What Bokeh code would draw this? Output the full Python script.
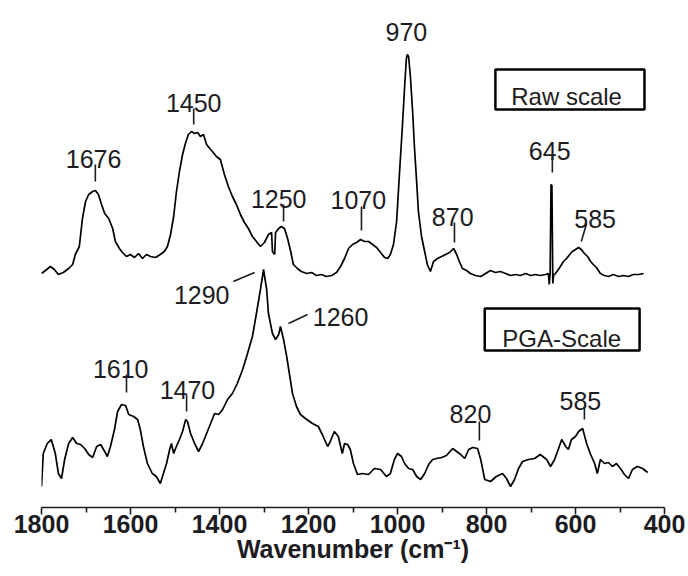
from bokeh.plotting import figure
from bokeh.models import Range1d, FixedTicker, ColumnDataSource, BoxAnnotation, Title
from bokeh.core.properties import value
from bokeh.embed import file_html
from bokeh.resources import INLINE

# ---------------- data (wavenumber cm-1, intensity a.u. incl. offset) ----------------
raw_wn = [1800, 1791, 1780, 1771, 1762, 1751, 1739, 1730, 1724, 1715, 1708, 1701, 1694, 1685, 1679,
          1672, 1665, 1658, 1649, 1640, 1634, 1625, 1618, 1609, 1600, 1591, 1582, 1573, 1564, 1555,
          1544, 1533, 1524, 1517, 1510, 1503, 1497, 1490, 1483, 1476, 1470, 1463, 1456, 1449, 1443,
          1436, 1429, 1422, 1416, 1407, 1398, 1389, 1380, 1371, 1362, 1353, 1344, 1335, 1326, 1317,
          1308, 1299, 1290, 1283, 1281, 1276, 1274, 1267, 1261, 1254, 1247, 1240, 1234, 1225, 1216,
          1204, 1193, 1182, 1171, 1160, 1148, 1137, 1128, 1119, 1110, 1101, 1092, 1083, 1074, 1065,
          1056, 1047, 1038, 1029, 1022, 1016, 1009, 1002, 996, 989, 984, 980, 978, 975, 971,
          966, 962, 957, 953, 946, 939, 933, 926, 919, 910, 901, 892, 883, 874, 867,
          861, 854, 845, 836, 825, 813, 802, 791, 780, 769, 757, 746, 735, 724, 712,
          701, 690, 679, 667, 661, 659, 657, 655, 653, 651, 649, 647, 640, 634, 627,
          620, 613, 607, 600, 593, 587, 580, 573, 566, 560, 553, 544, 535, 526, 515,
          503, 492, 481, 470, 458, 447]
raw_int = [2.34, 2.37, 2.41, 2.38, 2.33, 2.35, 2.39, 2.43, 2.53, 2.61, 2.89, 3.06, 3.13, 3.16, 3.17,
           3.13, 3.03, 2.94, 2.89, 2.79, 2.66, 2.59, 2.55, 2.51, 2.53, 2.50, 2.54, 2.49, 2.53, 2.51,
           2.50, 2.53, 2.56, 2.61, 2.73, 2.91, 3.15, 3.36, 3.53, 3.65, 3.73, 3.76, 3.74, 3.75, 3.71,
           3.73, 3.63, 3.59, 3.56, 3.51, 3.48, 3.33, 3.21, 3.11, 3.03, 2.93, 2.85, 2.79, 2.71, 2.66,
           2.61, 2.65, 2.73, 2.75, 2.56, 2.53, 2.75, 2.79, 2.81, 2.79, 2.69, 2.56, 2.43, 2.39, 2.36,
           2.34, 2.35, 2.32, 2.33, 2.31, 2.32, 2.35, 2.41, 2.49, 2.59, 2.63, 2.65, 2.68, 2.66, 2.66,
           2.63, 2.60, 2.55, 2.50, 2.49, 2.53, 2.63, 2.86, 3.31, 3.81, 4.21, 4.49, 4.53, 4.51, 4.31,
           3.96, 3.61, 3.26, 2.96, 2.71, 2.56, 2.43, 2.36, 2.46, 2.49, 2.51, 2.53, 2.55, 2.59, 2.53,
           2.46, 2.39, 2.37, 2.34, 2.32, 2.31, 2.34, 2.37, 2.35, 2.36, 2.34, 2.32, 2.33, 2.32, 2.34,
           2.32, 2.33, 2.32, 2.33, 2.34, 2.23, 2.34, 3.23, 3.22, 2.24, 2.33, 2.33, 2.37, 2.41, 2.46,
           2.49, 2.53, 2.56, 2.58, 2.60, 2.58, 2.54, 2.51, 2.46, 2.43, 2.40, 2.34, 2.32, 2.31, 2.33,
           2.31, 2.32, 2.31, 2.33, 2.33, 2.34]

pga_wn = [1800, 1796, 1787, 1778, 1769, 1762, 1755, 1748, 1739, 1730, 1721, 1712, 1703, 1694, 1685,
          1676, 1667, 1658, 1652, 1645, 1636, 1629, 1620, 1611, 1604, 1593, 1584, 1578, 1571, 1562,
          1551, 1542, 1533, 1526, 1519, 1512, 1508, 1503, 1497, 1490, 1483, 1476, 1472, 1465, 1456,
          1447, 1438, 1429, 1420, 1411, 1402, 1393, 1382, 1371, 1360, 1348, 1337, 1326, 1317, 1308,
          1301, 1294, 1290, 1281, 1274, 1267, 1263, 1256, 1249, 1243, 1236, 1227, 1218, 1207, 1191,
          1178, 1169, 1157, 1151, 1142, 1133, 1124, 1119, 1112, 1106, 1099, 1090, 1079, 1065, 1052,
          1038, 1025, 1016, 1007, 1000, 991, 984, 975, 966, 957, 948, 939, 930, 921, 912,
          901, 890, 876, 867, 858, 849, 840, 831, 820, 813, 804, 791, 778, 764, 755,
          746, 737, 728, 719, 706, 692, 679, 665, 656, 647, 638, 631, 622, 616, 609,
          600, 593, 584, 575, 566, 557, 551, 544, 535, 526, 517, 508, 499, 490, 481,
          472, 461, 449, 438]
pga_int = [0.21, 0.54, 0.64, 0.68, 0.54, 0.34, 0.29, 0.48, 0.64, 0.70, 0.64, 0.63, 0.59, 0.53, 0.50,
           0.61, 0.63, 0.56, 0.51, 0.61, 0.78, 0.96, 1.03, 1.02, 0.93, 0.91, 0.88, 0.78, 0.61, 0.44,
           0.34, 0.31, 0.24, 0.34, 0.44, 0.58, 0.64, 0.54, 0.61, 0.68, 0.76, 0.88, 0.86, 0.74, 0.64,
           0.56, 0.64, 0.74, 0.84, 0.94, 0.93, 0.98, 1.08, 1.14, 1.24, 1.38, 1.54, 1.71, 1.94, 2.18,
           2.38, 2.18, 1.94, 1.74, 1.68, 1.73, 1.81, 1.68, 1.51, 1.34, 1.14, 1.01, 0.93, 0.89, 0.84,
           0.81, 0.73, 0.61, 0.66, 0.76, 0.71, 0.54, 0.64, 0.63, 0.58, 0.44, 0.33, 0.34, 0.33, 0.39,
           0.38, 0.31, 0.34, 0.48, 0.54, 0.51, 0.44, 0.39, 0.38, 0.31, 0.28, 0.34, 0.43, 0.48, 0.49,
           0.50, 0.52, 0.59, 0.56, 0.53, 0.49, 0.58, 0.60, 0.59, 0.48, 0.28, 0.26, 0.31, 0.34, 0.29,
           0.21, 0.28, 0.39, 0.46, 0.48, 0.49, 0.53, 0.48, 0.41, 0.48, 0.59, 0.68, 0.61, 0.58, 0.68,
           0.71, 0.76, 0.79, 0.64, 0.53, 0.44, 0.34, 0.48, 0.44, 0.45, 0.41, 0.44, 0.39, 0.33, 0.29,
           0.38, 0.41, 0.39, 0.35]

x_ticks = [1800, 1600, 1400, 1200, 1000, 800, 600, 400]
x_minor = [1700, 1500, 1300, 1100, 900, 700, 500]

# peak annotations: label text, label x, label baseline y, marker segments
raw_labels = ["1676", "1450", "1250", "1070", "970", "870", "645", "585"]
raw_label_x = [1683, 1458, 1267, 1088, 980, 876, 658, 556]
raw_label_y = [3.49, 4.05, 3.09, 3.08, 4.76, 2.91, 3.57, 2.89]
raw_mark_x0 = [1679, 1458, 1256, 1081, 872, 652, 575]
raw_mark_y0 = [3.43, 3.99, 3.03, 3.01, 2.85, 3.52, 2.84]
raw_mark_x1 = [1679, 1458, 1256, 1081, 872, 652, 587]
raw_mark_y1 = [3.26, 3.83, 2.86, 2.77, 2.65, 3.35, 2.66]

pga_labels = ["1290", "1260", "1610", "1470", "820", "585"]
pga_label_x = [1440, 1128, 1622, 1472, 836, 589]
pga_label_y = [2.13, 1.91, 1.39, 1.18, 0.94, 1.07]
pga_mark_x0 = [1369, 1245, 1609, 1474, 816, 580]
pga_mark_y0 = [2.26, 1.84, 1.33, 1.13, 0.86, 1.01]
pga_mark_x1 = [1321, 1202, 1609, 1474, 816, 580]
pga_mark_y1 = [2.35, 1.93, 1.15, 0.96, 0.67, 0.88]

series_names = ["Raw scale", "PGA-Scale"]
x_title = "Wavenumber (cm\u207b\u00b9)"

# ---------------- figure ----------------
FONT = "Liberation Sans"
INK = "#1c1c22"

p = figure(width=688, height=566, x_range=Range1d(1800, 400), y_range=Range1d(0, 5.01),
           y_axis_location=None, title=None, output_backend="svg", toolbar_location=None,
           min_border_left=41, min_border_right=24, min_border_top=6, min_border_bottom=59)
p.outline_line_color = None
p.xgrid.visible = False
p.ygrid.visible = False

ax = p.xaxis[0]
ax.ticker = FixedTicker(ticks=x_ticks, minor_ticks=x_minor)
ax.axis_line_width = 1.6
ax.axis_line_color = INK
ax.major_tick_line_width = 1.6
ax.major_tick_line_color = INK
ax.minor_tick_line_width = 1.6
ax.minor_tick_line_color = INK
ax.major_tick_in = 0
ax.major_tick_out = 7
ax.minor_tick_in = 0
ax.minor_tick_out = 5
ax.major_label_standoff = 0
ax.major_label_text_font = FONT
ax.major_label_text_font_style = "bold"
ax.major_label_text_font_size = "25px"
ax.major_label_text_color = INK

p.line(raw_wn, raw_int, line_color="black", line_width=1.7)
p.line(pga_wn, pga_int, line_color="black", line_width=1.7)

for labs, lx, ly, mx0, my0, mx1, my1 in [
        (raw_labels, raw_label_x, raw_label_y, raw_mark_x0, raw_mark_y0, raw_mark_x1, raw_mark_y1),
        (pga_labels, pga_label_x, pga_label_y, pga_mark_x0, pga_mark_y0, pga_mark_x1, pga_mark_y1)]:
    src = ColumnDataSource(dict(x=lx, y=ly, t=labs))
    p.text(x="x", y="y", text="t", source=src, text_font=value(FONT), text_font_size="25px",
           text_align="center", text_baseline="alphabetic", text_color=INK)
    p.segment(x0=mx0, y0=my0, x1=mx1, y1=my1, line_color=INK, line_width=1.6)

# boxed series names
p.add_layout(BoxAnnotation(left=780, right=445, top=4.38, bottom=3.98, fill_color=None,
                           line_color="black", line_alpha=1.0, line_width=2.5))
p.add_layout(BoxAnnotation(left=804, right=456, top=1.99, bottom=1.57, fill_color=None,
                           line_color="black", line_alpha=1.0, line_width=2.5))
p.text(x=[620, 631], y=[4.11, 1.69], text=series_names, text_font=value(FONT),
       text_font_size="24px", text_align="center", text_baseline="alphabetic", text_color=INK)

# x-axis title below the tick labels (shifted slightly left, as in the original)
p.add_layout(Title(text=x_title, align="center", offset=-12, standoff=-6,
                   text_font=FONT, text_font_style="bold", text_font_size="25px",
                   text_color=INK), "below")

open("out.html", "w").write(file_html(p, INLINE))
